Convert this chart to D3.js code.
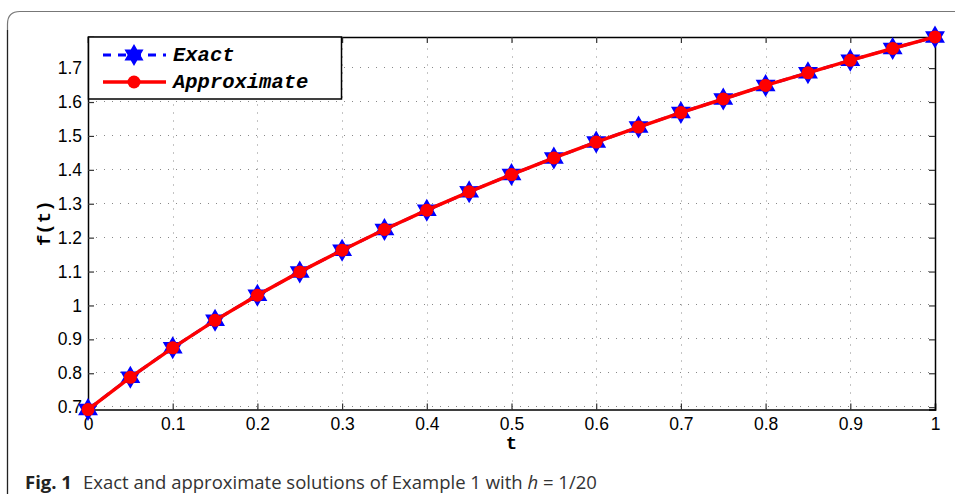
<!DOCTYPE html>
<html>
<head>
<meta charset="utf-8">
<script src="https://cdn.jsdelivr.net/npm/d3@7"></script>
<style>
  body { margin: 0; background: #fff; }
  svg { display: block; }
</style>
</head>
<body>
<svg id="chart" width="955" height="494"></svg>
<script>
// values
const tValues = [0, 0.05, 0.1, 0.15, 0.2, 0.25, 0.3, 0.35, 0.4, 0.45, 0.5,
                 0.55, 0.6, 0.65, 0.7, 0.75, 0.8, 0.85, 0.9, 0.95, 1]
const exactValues = [0.693, 0.788, 0.875, 0.956, 1.030, 1.099, 1.163, 1.224, 1.281, 1.335, 1.386,
                     1.435, 1.482, 1.526, 1.569, 1.609, 1.649, 1.686, 1.723, 1.758, 1.792]
const approxValues = [0.693, 0.788, 0.875, 0.956, 1.030, 1.099, 1.163, 1.224, 1.281, 1.335, 1.386,
                      1.435, 1.482, 1.526, 1.569, 1.609, 1.649, 1.686, 1.723, 1.758, 1.792]
const xTicks = [0, 0.1, 0.2, 0.3, 0.4, 0.5, 0.6, 0.7, 0.8, 0.9, 1]
const yTicks = [0.7, 0.8, 0.9, 1, 1.1, 1.2, 1.3, 1.4, 1.5, 1.6, 1.7]
const legendNames = ["Exact", "Approximate"]

const svg = d3.select("#chart")
const plotLeft = 88, plotRight = 935, plotTop = 37, plotBottom = 409.5

const x = d3.scaleLinear().domain([0, 1]).range([plotLeft, plotRight])
const y = d3.scaleLinear().domain([0.6931, 1.7918]).range([plotBottom, plotTop])

// outer frame of the figure box
svg.append("path")
    .attr("d", "M955,11.5 L20,11.5 Q7.5,11.5 7.5,24 L7.5,494")
    .attr("fill", "none")
    .attr("stroke", "#777")
    .attr("stroke-width", 1.2)
svg.append("path")
    .attr("d", "M7.5,30 L7.5,494")
    .attr("stroke", "#222")
    .attr("stroke-width", 1.2)

// dotted grid
const grid = svg.append("g").attr("stroke", "#888").attr("stroke-width", 1)
    .attr("stroke-dasharray", "1,7")
grid.selectAll(".gx").data(xTicks.slice(1, -1)).join("line")
    .attr("x1", d => Math.round(x(d)) + 0.5).attr("x2", d => Math.round(x(d)) + 0.5)
    .attr("y1", plotBottom).attr("y2", plotTop)
grid.selectAll(".gy").data(yTicks).join("line")
    .attr("y1", d => Math.round(y(d)) - 0.5).attr("y2", d => Math.round(y(d)) - 0.5)
    .attr("x1", plotLeft).attr("x2", plotRight)

// axes
const fmt = d => String(d)
const xAxis = d3.axisBottom(x).tickValues(xTicks).tickFormat(fmt).tickSize(-6).tickPadding(8)
const yAxis = d3.axisLeft(y).tickValues(yTicks).tickFormat(fmt).tickSize(-6).tickPadding(6)

svg.append("g").attr("transform", `translate(0,${plotBottom})`).call(xAxis)
svg.append("g").attr("transform", `translate(${plotLeft},0)`).call(yAxis)
svg.append("g").attr("transform", `translate(0,${plotTop})`)
    .call(d3.axisTop(x).tickValues(xTicks).tickFormat("").tickSize(-6))
svg.append("g").attr("transform", `translate(${plotRight},0)`)
    .call(d3.axisRight(y).tickValues(yTicks).tickFormat("").tickSize(-6))

svg.selectAll(".domain").attr("stroke", "#000").attr("stroke-width", 1.5)
svg.selectAll(".tick line").attr("stroke", "#333").attr("stroke-width", 1.2)
svg.selectAll(".tick text")
    .style("font-family", "'Liberation Sans', Arial, sans-serif")
    .style("font-size", "17.5px")
    .attr("fill", "#000")

// axis titles
svg.append("text")
    .attr("x", x(0.5)).attr("y", 449)
    .attr("text-anchor", "middle")
    .attr("font-family", "Liberation Mono")
    .attr("font-weight", "bold")
    .attr("font-size", 19)
    .text("t")
svg.append("text")
    .attr("transform", `translate(50,${(plotTop + plotBottom) / 2}) rotate(-90)`)
    .attr("text-anchor", "middle")
    .attr("font-family", "Liberation Mono")
    .attr("font-weight", "bold")
    .attr("font-size", 19)
    .text("f(t)")

// hexagram marker
function hexagram(cx, cy, r) {
    const pts = []
    for (let i = 0; i < 12; i++) {
        const a = -Math.PI / 2 + i * Math.PI / 6
        const rr = i % 2 === 0 ? r : r * 0.577
        pts.push([cx + rr * Math.cos(a), cy + rr * Math.sin(a)])
    }
    return "M" + pts.map(p => p.join(",")).join("L") + "Z"
}

const line = d3.line().x(d => x(d[0])).y(d => y(d[1]))
const exactData = tValues.map((t, i) => [t, exactValues[i]])
const approxData = tValues.map((t, i) => [t, approxValues[i]])

svg.append("path").datum(exactData)
    .attr("d", line).attr("fill", "none")
    .attr("stroke", "#0000ff").attr("stroke-width", 3)
    .attr("stroke-dasharray", "10,6")
svg.selectAll(".star").data(exactData).join("path")
    .attr("d", d => hexagram(x(d[0]), y(d[1]), 11.5))
    .attr("fill", "#0000ff")

svg.append("path").datum(approxData)
    .attr("d", line).attr("fill", "none")
    .attr("stroke", "#ff0000").attr("stroke-width", 3.5)
svg.selectAll(".dot").data(approxData).join("circle")
    .attr("cx", d => x(d[0])).attr("cy", d => y(d[1])).attr("r", 6.5)
    .attr("fill", "#ff0000")

// legend
const lg = svg.append("g")
lg.append("rect")
    .attr("x", 88.5).attr("y", 37).attr("width", 253).attr("height", 62)
    .attr("fill", "#fff").attr("stroke", "#000").attr("stroke-width", 1.5)
const rows = [55, 82]
lg.append("line").attr("x1", 103).attr("x2", 166).attr("y1", rows[0]).attr("y2", rows[0])
    .attr("stroke", "#0000ff").attr("stroke-width", 3).attr("stroke-dasharray", "8,7")
lg.append("path").attr("d", hexagram(134, rows[0], 11)).attr("fill", "#0000ff")
lg.append("line").attr("x1", 103).attr("x2", 166).attr("y1", rows[1]).attr("y2", rows[1])
    .attr("stroke", "#ff0000").attr("stroke-width", 3.5)
lg.append("circle").attr("cx", 134).attr("cy", rows[1]).attr("r", 6.5).attr("fill", "#ff0000")
lg.selectAll(".lt").data(legendNames).join("text")
    .attr("x", 173).attr("y", (d, i) => rows[i] + 6)
    .attr("font-family", "Liberation Mono")
    .attr("font-weight", "bold").attr("font-style", "italic")
    .attr("font-size", 20.5)
    .text(d => d)

// caption
const cap = svg.append("text")
    .attr("x", 25).attr("y", 489)
    .attr("font-family", "Open Sans")
    .attr("font-size", 18.5)
    .attr("fill", "#333")
cap.append("tspan").attr("font-weight", "bold").attr("fill", "#222").text("Fig. 1")
cap.append("tspan").attr("dx", 11).text("Exact and approximate solutions of Example 1 with ")
cap.append("tspan").attr("font-style", "italic").text("h")
cap.append("tspan").text(" = 1/20")
</script>
</body>
</html>
